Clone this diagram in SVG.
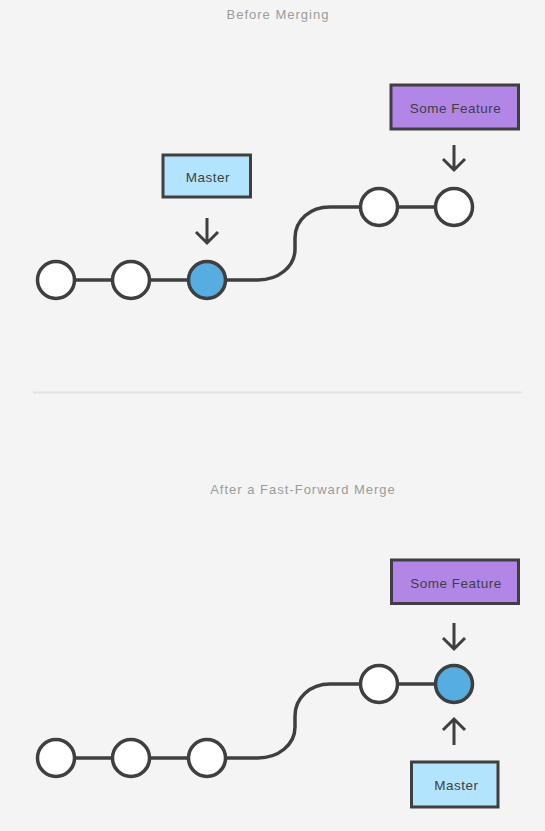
<svg xmlns="http://www.w3.org/2000/svg" width="545" height="831" viewBox="0 0 545 831">
<style>
.title{font-family:"Liberation Sans",Arial,sans-serif;font-size:13px;fill:#9b9b9b;letter-spacing:1px;text-anchor:middle}
.lbl{font-family:"Liberation Sans",Arial,sans-serif;font-size:13.5px;fill:#3f3f3f;letter-spacing:0.5px;text-anchor:middle}
.commit{fill:#ffffff;stroke:#3f3f3f;stroke-width:3.5}
.head{fill:#55ade0}
.line{fill:none;stroke:#3f3f3f;stroke-width:3.5}
.arrow{fill:none;stroke:#3f3f3f;stroke-width:3}
.master{fill:#b3e4fd;stroke:#3f3f3f;stroke-width:3}
.feature{fill:#b186e7;stroke:#3f3f3f;stroke-width:3}
</style>
<rect width="545" height="831" fill="#f4f4f4"/>
<text class="title" x="278" y="19">Before Merging</text>
<text class="title" x="303" y="494">After a Fast-Forward Merge</text>
<line x1="33" y1="392.5" x2="522" y2="392.5" stroke="#e2e2e2" stroke-width="2"/>
<g id="connectors">
<path class="line" d="M56 280 H258 C278 280 295 267 295 249 V238 C295 220 310 207 330 207 H454"/>
<path class="line" d="M56 758 H258 C278 758 295 745 295 727 V716 C295 698 310 684 330 684 H454"/>
<path class="arrow" d="M207 218 V243 M196 232 L207 243 L218 232"/>
<path class="arrow" d="M454 145 V170 M443 159 L454 170 L465 159"/>
<path class="arrow" d="M454 623 V649 M443 638 L454 649 L465 638"/>
<path class="arrow" d="M454 745 V719 M443 730 L454 719 L465 730"/>
</g>
<g id="before-c1"><circle class="commit" cx="56" cy="280" r="18.5"/></g>
<g id="before-c2"><circle class="commit" cx="131" cy="280" r="18.5"/></g>
<g id="before-c3"><circle class="commit head" cx="207" cy="280" r="18.5"/></g>
<g id="before-c4"><circle class="commit" cx="379" cy="207" r="18.5"/></g>
<g id="before-c5"><circle class="commit" cx="454" cy="207" r="18.5"/></g>
<g id="before-master"><rect class="master" x="163" y="155" width="87.5" height="42"/><text class="lbl" x="208" y="182">Master</text></g>
<g id="before-feature"><rect class="feature" x="391" y="85" width="127.5" height="44"/><text class="lbl" x="455.5" y="112.5">Some Feature</text></g>
<g id="after-c1"><circle class="commit" cx="56" cy="758" r="18.5"/></g>
<g id="after-c2"><circle class="commit" cx="131" cy="758" r="18.5"/></g>
<g id="after-c3"><circle class="commit" cx="207" cy="758" r="18.5"/></g>
<g id="after-c4"><circle class="commit" cx="379" cy="684" r="18.5"/></g>
<g id="after-c5"><circle class="commit head" cx="454" cy="684" r="18.5"/></g>
<g id="after-feature"><rect class="feature" x="391.5" y="560" width="127" height="43.5"/><text class="lbl" x="456" y="587.5">Some Feature</text></g>
<g id="after-master"><rect class="master" x="411.5" y="762" width="86.5" height="45"/><text class="lbl" x="456.5" y="790">Master</text></g>
</svg>
